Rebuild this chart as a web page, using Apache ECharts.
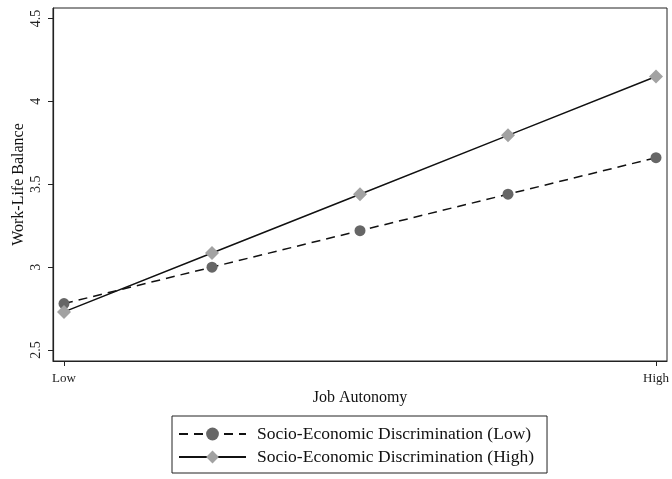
<!DOCTYPE html>
<html>
<head>
<meta charset="utf-8">
<script src="https://cdn.jsdelivr.net/npm/echarts@6/dist/echarts.min.js"></script>
<style>
  html, body { margin: 0; padding: 0; background: #fff; }
  #chart { width: 672px; height: 479px; }
</style>
</head>
<body>
<div id="chart"></div>
<script>
// Predicted work-life balance across job autonomy levels
const autonomySteps = [0, 1, 2, 3, 4];
const autonomyTickLabels = { 0: 'Low', 4: 'High' };
const balanceTicks = [2.5, 3, 3.5, 4, 4.5];
const discrimLow = [2.78, 3.00, 3.22, 3.44, 3.66];
const discrimHigh = [2.73, 3.085, 3.44, 3.795, 4.15];
const seriesNames = [
  'Socio-Economic Discrimination (Low)',
  'Socio-Economic Discrimination (High)'
];

const serif = 'Liberation Serif, Times New Roman, serif';
const pair = (vals) => autonomySteps.map((x, i) => [x, vals[i]]);

const chart = echarts.init(document.getElementById('chart'), null, { renderer: 'canvas' });
chart.setOption({
  animation: false,
  backgroundColor: '#ffffff',
  textStyle: { fontFamily: serif },
  grid: {
    left: 53, top: 8, right: 5, bottom: 118,
    containLabel: false,
    outerBoundsMode: 'none',
    show: true, borderColor: '#222', borderWidth: 1, backgroundColor: '#fff'
  },
  xAxis: {
    type: 'value',
    min: -0.0743, max: 4.0743,
    name: 'Job Autonomy',
    nameLocation: 'middle',
    nameGap: 28,
    nameTextStyle: { fontFamily: serif, fontSize: 16, color: '#111' },
    axisLine: { show: true, onZero: false, lineStyle: { color: '#222', width: 1.2 } },
    axisTick: { show: true, length: 5, lineStyle: { color: '#222' }, customValues: [0, 4] },
    axisLabel: {
      customValues: [0, 4],
      fontFamily: serif, fontSize: 13, color: '#222', margin: 11,
      formatter: (v) => autonomyTickLabels[v] || ''
    },
    splitLine: { show: false }
  },
  yAxis: {
    type: 'value',
    min: 2.4337, max: 4.5633,
    name: 'Work-Life Balance',
    nameLocation: 'middle',
    nameGap: 26,
    nameMoveOverlap: false,
    nameRotate: 90,
    nameTextStyle: { fontFamily: serif, fontSize: 16, color: '#111' },
    axisLine: { show: true, onZero: false, lineStyle: { color: '#222', width: 1.2 } },
    axisTick: { show: true, length: 5, lineStyle: { color: '#222' }, customValues: balanceTicks },
    axisLabel: {
      customValues: balanceTicks,
      rotate: 90,
      fontFamily: serif, fontSize: 14, color: '#222', margin: 10,
      formatter: (v) => String(v)
    },
    splitLine: { show: false }
  },
  legend: {
    orient: 'vertical',
    left: 172, top: 416,
    padding: [9, 13, 7, 6],
    itemGap: 5,
    itemWidth: 67, itemHeight: 16,
    borderColor: '#222', borderWidth: 1,
    textStyle: { fontFamily: serif, fontSize: 17.5, lineHeight: 18, color: '#111', padding: [0, 0, 0, 6] },
    data: seriesNames
  },
  series: [
    {
      name: seriesNames[0],
      type: 'line',
      data: pair(discrimLow),
      symbol: 'circle',
      symbolSize: 11,
      itemStyle: { color: '#666666' },
      lineStyle: { color: '#111', width: 1.5, type: [9, 6] },
      z: 3
    },
    {
      name: seriesNames[1],
      type: 'line',
      data: pair(discrimHigh),
      symbol: 'diamond',
      symbolSize: [14, 14],
      itemStyle: { color: '#a2a2a2' },
      lineStyle: { color: '#111', width: 1.5, type: 'solid' },
      z: 4
    }
  ]
});
</script>
</body>
</html>
